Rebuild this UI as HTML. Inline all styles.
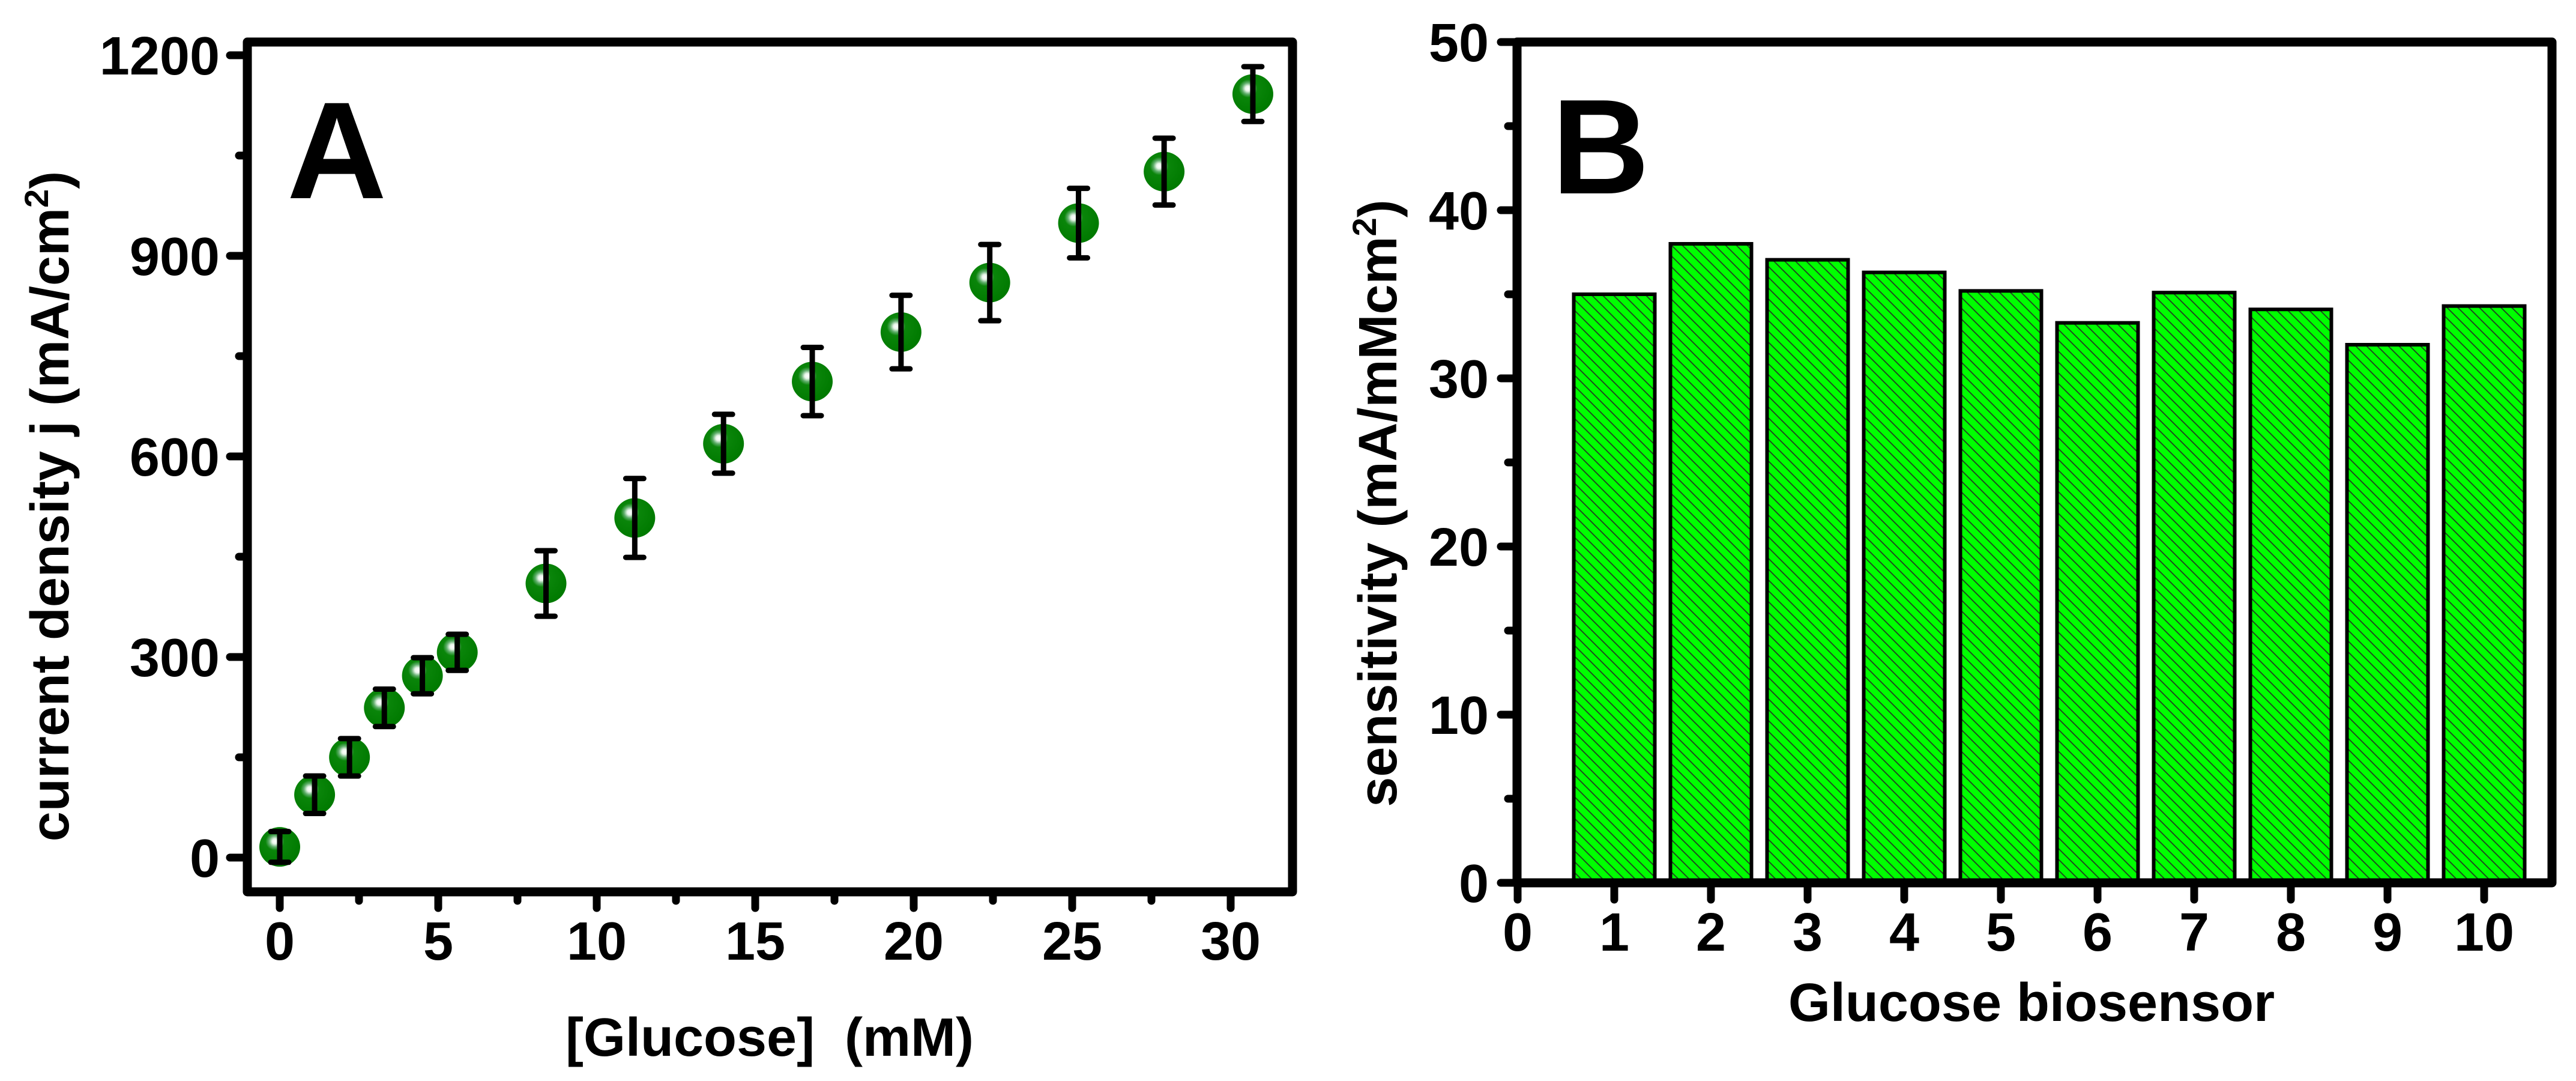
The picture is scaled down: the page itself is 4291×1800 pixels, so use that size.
<!DOCTYPE html>
<html><head><meta charset="utf-8"><style>
html,body{margin:0;padding:0;background:#fff;}
svg{display:block;font-family:"Liberation Sans",Arial,sans-serif;font-weight:bold;}
</style></head><body>
<svg id="fig" width="4291" height="1800" viewBox="0 0 4291 1800">
<defs>
<radialGradient id="ball" cx="0.38" cy="0.36" r="0.65">
<stop offset="0" stop-color="#ffffff"/><stop offset="0.1" stop-color="#e8f5ea"/><stop offset="0.22" stop-color="#5fae6b"/><stop offset="0.35" stop-color="#0a850a"/><stop offset="1" stop-color="#007a00"/>
</radialGradient>
<pattern id="hatch" patternUnits="userSpaceOnUse" width="18" height="18">
<rect width="18" height="18" fill="#00ff00"/>
<path d="M-2,-2 L20,20 M-2,16 L2,20 M16,-2 L20,2" stroke="#1f4d1f" stroke-width="2"/>
</pattern>
</defs>
<g id="panelA"></g>
<g id="panelB"></g>
</svg>
<script>
// Panel A data
const glucoseMM = [0, 1.1, 2.2, 3.3, 4.5, 5.6, 8.4, 11.2, 14.0, 16.8, 19.6, 22.4, 25.2, 27.9, 30.7];
const currentDensity = [16, 94, 150, 224, 272, 307, 410, 508, 619, 712, 786, 860, 949, 1026, 1142];
const currentError = [23, 28, 28, 28, 27, 27, 49, 59, 44, 51, 55, 57, 52, 50, 41];
const xTicksA = [0, 5, 10, 15, 20, 25, 30];
const yTicksA = [0, 300, 600, 900, 1200];
// Panel B data
const sensorIds = [1, 2, 3, 4, 5, 6, 7, 8, 9, 10];
const sensitivity = [35.0, 38.0, 37.05, 36.3, 35.2, 33.3, 35.1, 34.1, 32.0, 34.3];
const xTicksB = [0, 1, 2, 3, 4, 5, 6, 7, 8, 9, 10];
const yTicksB = [0, 10, 20, 30, 40, 50];

const NS = "http://www.w3.org/2000/svg";
function mk(parent, tag, attrs, text) {
  const e = document.createElementNS(NS, tag);
  for (const k in attrs) e.setAttribute(k, attrs[k]);
  if (text !== undefined) e.textContent = text;
  parent.appendChild(e);
  return e;
}

// ---------- Panel A ----------
const A = document.getElementById('panelA');
const ax = v => 466 + v * 52.8;
const ay = v => 1428 - v * 1.1133;
let el;
el = mk(A, 'rect', {x: 412, y: 70, width: 1741, height: 1415, fill: 'none', stroke: '#000', 'stroke-width': 15, 'stroke-linejoin': 'round'});


for (let v = 0; v <= 1200; v += 150) {
  const major = v % 300 === 0;
  el = mk(A, 'line', {x1: 412, x2: major ? 383 : 398, y1: ay(v), y2: ay(v), stroke: '#000', 'stroke-width': 13, 'stroke-linecap': 'round'});
  
  
}
yTicksA.forEach(v => {
  el = mk(A, 'text', {x: 366, y: ay(v) + 32, 'text-anchor': 'end', 'font-size': 90}, String(v));
  
  
});
for (let v = 0; v <= 30; v += 2.5) {
  const major = v % 5 === 0;
  el = mk(A, 'line', {x1: ax(v), x2: ax(v), y1: 1485, y2: major ? 1512 : 1500, stroke: '#000', 'stroke-width': 13, 'stroke-linecap': 'round'});
  
  
}
xTicksA.forEach(v => {
  el = mk(A, 'text', {x: ax(v), y: 1598, 'text-anchor': 'middle', 'font-size': 90}, String(v));
  
  
});
glucoseMM.forEach((g, i) => {
  const cx = ax(g), cy = ay(currentDensity[i]);
  const top = ay(currentDensity[i] + currentError[i]), bot = ay(currentDensity[i] - currentError[i]);
  el = mk(A, 'ellipse', {cx: cx, cy: cy, rx: 34, ry: 33, fill: 'url(#ball)'});
  
  
  const eb = mk(A, 'path', {d: `M${cx},${top} L${cx},${bot} M${cx-15},${top} L${cx+15},${top} M${cx-15},${bot} L${cx+15},${bot}`, stroke: '#000', 'stroke-width': 9, 'stroke-linecap': 'round', fill: 'none'});
  
  
});
el = mk(A, 'text', {x: 478, y: 330, 'font-size': 230}, 'A');


el = mk(A, 'text', {x: 1282, y: 1758, 'text-anchor': 'middle', 'font-size': 90}, '[Glucose]\u00a0\u00a0(mM)');


el = mk(A, 'text', {x: 0, y: 0, 'text-anchor': 'middle', 'font-size': 90, transform: 'translate(114,843) rotate(-90)'});


mk(el, 'tspan', {}, 'current density j (mA/cm');
mk(el, 'tspan', {dy: -34, 'font-size': 56}, '2');
mk(el, 'tspan', {dy: 34}, ')');

// ---------- Panel B ----------
const B = document.getElementById('panelB');
const bx = v => 2528 + v * 161;
const by = v => 1470 - v * 28;
sensorIds.forEach((s, i) => {
  const w = 135;
  el = mk(B, 'rect', {x: bx(s) - w / 2, y: by(sensitivity[i]), width: w, height: by(0) - by(sensitivity[i]), fill: 'url(#hatch)', stroke: '#000', 'stroke-width': 6});
  
  
});
el = mk(B, 'rect', {x: 2527, y: 70, width: 1724, height: 1400, fill: 'none', stroke: '#000', 'stroke-width': 15, 'stroke-linejoin': 'round'});


for (let v = 0; v <= 50; v += 5) {
  const major = v % 10 === 0;
  el = mk(B, 'line', {x1: 2527, x2: major ? 2500 : 2512, y1: by(v), y2: by(v), stroke: '#000', 'stroke-width': 13, 'stroke-linecap': 'round'});
  
  
}
yTicksB.forEach(v => {
  el = mk(B, 'text', {x: 2480, y: by(v) + 32, 'text-anchor': 'end', 'font-size': 90}, String(v));
  
  
});
xTicksB.forEach(v => {
  el = mk(B, 'line', {x1: bx(v), x2: bx(v), y1: 1470, y2: 1498, stroke: '#000', 'stroke-width': 13, 'stroke-linecap': 'round'});
  
  
  el = mk(B, 'text', {x: bx(v), y: 1583, 'text-anchor': 'middle', 'font-size': 90}, String(v));
  
  
});
el = mk(B, 'text', {x: 2585, y: 322, 'font-size': 225}, 'B');


el = mk(B, 'text', {x: 3384, y: 1700, 'text-anchor': 'middle', 'font-size': 90}, 'Glucose biosensor');


el = mk(B, 'text', {x: 0, y: 0, 'text-anchor': 'middle', 'font-size': 90, transform: 'translate(2326,838) rotate(-90)'});


mk(el, 'tspan', {}, 'sensitivity (mA/mMcm');
mk(el, 'tspan', {dy: -34, 'font-size': 56}, '2');
mk(el, 'tspan', {dy: 34}, ')');
</script>
</body></html>
